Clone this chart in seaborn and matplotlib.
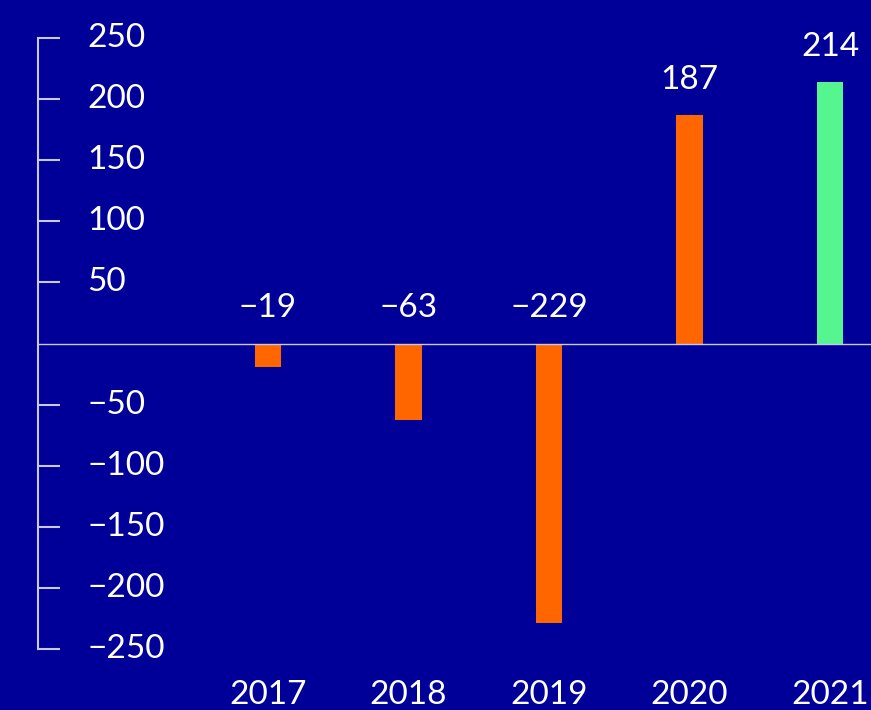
import matplotlib
matplotlib.use("Agg")
import matplotlib.pyplot as plt
import matplotlib.transforms as mtransforms
import seaborn as sns
import pandas as pd

years = ["2017", "2018", "2019", "2020", "2021"]
values = [-19, -63, -229, 187, 214]
bar_colors = ["#FF6600", "#FF6600", "#FF6600", "#FF6600", "#55F58F"]
yticks = [250, 200, 150, 100, 50, -50, -100, -150, -200, -250]

BG = "#000099"
FG = "#FFFFFF"
LINE = "#C8C8E8"

sns.set_theme(style="white")
plt.rcParams["font.family"] = ["Lato", "DejaVu Sans"]

W, H = 871, 710
fig = plt.figure(figsize=(W / 100, H / 100), dpi=100)
fig.patch.set_facecolor(BG)
left_px, right_px, top_px, bot_px = 38, 871, 38, 649
ax = fig.add_axes([left_px / W, 1 - bot_px / H, (right_px - left_px) / W, (bot_px - top_px) / H])
ax.set_facecolor(BG)

df = pd.DataFrame({"year": years, "value": values})
sns.barplot(data=df, x="year", y="value", hue="year", palette=bar_colors,
            legend=False, width=0.19, ax=ax, saturation=1, linewidth=0)

spacing = 140.5
x0 = 268
ax.set_xlim((left_px - x0) / spacing, (right_px - x0) / spacing)
ax.set_ylim(-250, 250)

ax.axhline(0, color=LINE, lw=1.0, zorder=3)

for i, v in enumerate(values):
    ax.annotate(f"{v}".replace("-", "\u2212"), xy=(i, max(v, 0)), xytext=(0, 25.5),
                textcoords="offset points", ha="center", va="center",
                color=FG, fontsize=24, clip_on=False)

for s in ["top", "right", "bottom"]:
    ax.spines[s].set_visible(False)
ax.spines["left"].set_color(LINE)
ax.spines["left"].set_linewidth(1.5)

ax.set_yticks(yticks)
ax.set_yticklabels([str(t).replace("-", "\u2212") for t in yticks])
ax.tick_params(axis="y", direction="in", length=15.8, width=1.5, color=LINE,
               pad=-35.3, labelsize=24, labelcolor=FG, left=True)
shift = mtransforms.ScaledTranslation(0, 3 / 100, fig.dpi_scale_trans)
for lab in ax.get_yticklabels():
    lab.set_horizontalalignment("left")
    lab.set_transform(lab.get_transform() + shift)

ax.tick_params(axis="x", length=0, pad=22, labelsize=24, labelcolor=FG)
ax.set_xlabel("")
ax.set_ylabel("")

fig.savefig("out.png", dpi=100, facecolor=BG)
